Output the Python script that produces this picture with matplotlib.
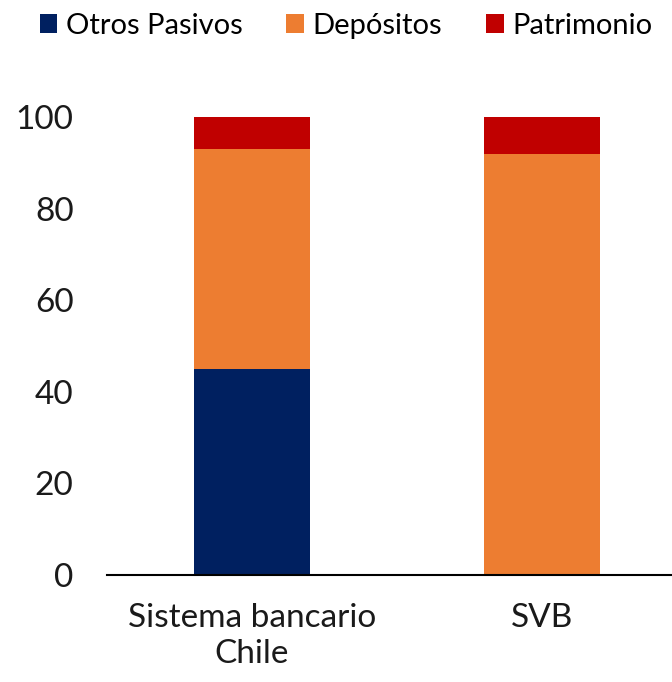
import numpy as np
from matplotlib import pyplot as plt

categories = ["Sistema bancario\nChile", "SVB"]
otros_pasivos = [45.0, 0.0]
depositos = [48.0, 92.0]
patrimonio = [7.0, 8.0]
yticks = [0, 20, 40, 60, 80, 100]

plt.rcParams["font.family"] = ["Lato", "DejaVu Sans"]

fig = plt.figure(figsize=(6.72, 6.82), dpi=100)
ax = fig.add_axes([0.159, 0.157, 0.863, 0.671])

ind = np.arange(len(categories))
width = 0.4
ob = np.array(otros_pasivos)
db = ob + np.array(depositos)

p1 = ax.bar(ind, otros_pasivos, width=width, color="#002060")
p2 = ax.bar(ind, depositos, width=width, bottom=ob, color="#ED7D31")
p3 = ax.bar(ind, patrimonio, width=width, bottom=db, color="#C00000")

ax.set_xlim(-0.5, 1.5)
ax.set_ylim(0, 100)
ax.set_yticks(yticks)
ax.set_xticks(ind, categories)
ax.tick_params(axis="both", length=0, labelsize=24, colors="#1a1a1a")
ax.tick_params(axis="x", pad=20)
ax.tick_params(axis="y", pad=24)
for lbl in ax.get_xticklabels():
    lbl.set_multialignment("center")
    lbl.set_linespacing(1.25)
for s in ["top", "right", "left"]:
    ax.spines[s].set_visible(False)
ax.spines["bottom"].set_linewidth(1.5)
ax.spines["bottom"].set_color("black")

fig.legend([p1, p2, p3], ["Otros Pasivos", "Depósitos", "Patrimonio"],
           loc="upper center", bbox_to_anchor=(0.515, 1.02), ncol=3,
           frameon=False, fontsize=21, handlelength=0.6, handleheight=0.6,
           handletextpad=0.3, columnspacing=1.5)

fig.savefig("out.png", dpi=100)
